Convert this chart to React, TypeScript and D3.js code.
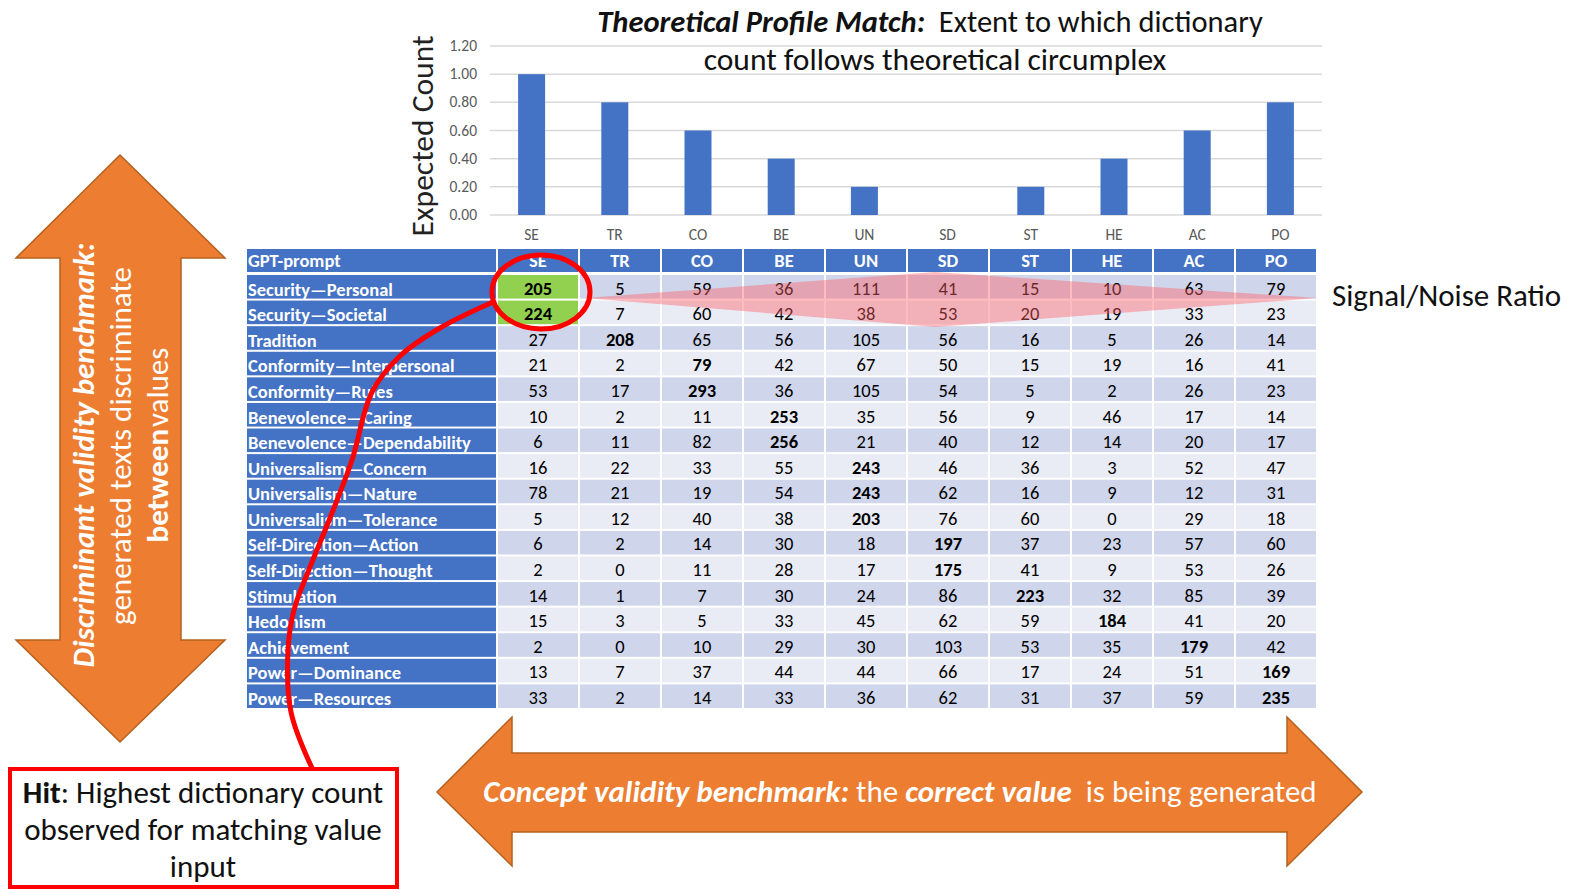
import React from "react";
import * as d3 from "d3";

// bar chart (theoretical profile)
const categories = ["SE", "TR", "CO", "BE", "UN", "SD", "ST", "HE", "AC", "PO"];
const expectedCount = [1.0, 0.8, 0.6, 0.4, 0.2, 0.0, 0.2, 0.4, 0.6, 0.8];
const yTicks = [0, 0.2, 0.4, 0.6, 0.8, 1.0, 1.2];

// table
const prompts = [
  "Security—Personal",
  "Security—Societal",
  "Tradition",
  "Conformity—Interpersonal",
  "Conformity—Rules",
  "Benevolence—Caring",
  "Benevolence—Dependability",
  "Universalism—Concern",
  "Universalism—Nature",
  "Universalism—Tolerance",
  "Self-Direction—Action",
  "Self-Direction—Thought",
  "Stimulation",
  "Hedonism",
  "Achievement",
  "Power—Dominance",
  "Power—Resources",
];
const counts = [
  [205, 5, 59, 36, 111, 41, 15, 10, 63, 79],
  [224, 7, 60, 42, 38, 53, 20, 19, 33, 23],
  [27, 208, 65, 56, 105, 56, 16, 5, 26, 14],
  [21, 2, 79, 42, 67, 50, 15, 19, 16, 41],
  [53, 17, 293, 36, 105, 54, 5, 2, 26, 23],
  [10, 2, 11, 253, 35, 56, 9, 46, 17, 14],
  [6, 11, 82, 256, 21, 40, 12, 14, 20, 17],
  [16, 22, 33, 55, 243, 46, 36, 3, 52, 47],
  [78, 21, 19, 54, 243, 62, 16, 9, 12, 31],
  [5, 12, 40, 38, 203, 76, 60, 0, 29, 18],
  [6, 2, 14, 30, 18, 197, 37, 23, 57, 60],
  [2, 0, 11, 28, 17, 175, 41, 9, 53, 26],
  [14, 1, 7, 30, 24, 86, 223, 32, 85, 39],
  [15, 3, 5, 33, 45, 62, 59, 184, 41, 20],
  [2, 0, 10, 29, 30, 103, 53, 35, 179, 42],
  [13, 7, 37, 44, 44, 66, 17, 24, 51, 169],
  [33, 2, 14, 33, 36, 62, 31, 37, 59, 235],
];
// rows highlighted as "hit" (green cells in SE column)
const hitRows = [0, 1];

const FONT = "Carlito, Calibri, Lato, 'Open Sans', sans-serif";
const BLUE = "#4472C4";
const ORANGE = "#ED7D31";
const ORANGE_EDGE = "#B4611F";
const BIG = 31;

const App = () => {
  const W = 1574;
  const H = 893;

  const x = d3.scaleBand().domain(categories).range([490, 1322]);
  const y = d3.scaleLinear().domain([0, 1.2]).range([215, 46]);
  const barW = 27;

  const col = d3.scaleBand().domain(categories).range([497, 1317]);
  const row = d3.scaleBand().domain(prompts).range([274, 709]);
  const labelX = 247;
  const labelW = 250;
  const headY = 249;
  const headH = 24;
  const tfs = 18.5;

  const curve = d3.line().curve(d3.curveCatmullRom.alpha(0.5))([
    [493, 302], [440, 328], [400, 356], [372, 392], [352, 460],
    [330, 518], [308, 572], [294, 610], [288, 650], [291, 712], [312, 768],
  ]);

  return (
    <div style={{ position: "absolute", left: 0, top: 0 }}>
      <svg width={W} height={H} style={{ display: "block", fontFamily: FONT }}>
        <rect width={W} height={H} fill="#fff" />

        {/* bar chart */}
        {yTicks.map((t) => (
          <g key={t}>
            <line x1={490} x2={1322} y1={y(t)} y2={y(t)} stroke="#D9D9D9" strokeWidth={1.5} />
            <text x={477} y={y(t) + 5} textAnchor="end" fontSize={15.5} fill="#595959">
              {d3.format(".2f")(t)}
            </text>
          </g>
        ))}
        {categories.map((c, i) => (
          <g key={c}>
            {expectedCount[i] > 0 && (
              <rect
                x={x(c)! + x.bandwidth() / 2 - barW / 2}
                y={y(expectedCount[i])}
                width={barW}
                height={y(0) - y(expectedCount[i])}
                fill={BLUE}
              />
            )}
            <text x={x(c)! + x.bandwidth() / 2} y={239.5} textAnchor="middle" fontSize={15.5} fill="#595959">
              {c}
            </text>
          </g>
        ))}
        <text transform="translate(433,136) rotate(-90)" textAnchor="middle" fontSize={31.5} fill="#222">
          Expected Count
        </text>
        <text x={930} y={32} textAnchor="middle" fontSize={30.5} fill="#111">
          <tspan fontWeight="bold" fontStyle="italic">Theoretical Profile Match:</tspan>
          <tspan>{"\u00a0 Extent to which dictionary"}</tspan>
        </text>
        <text x={935} y={70} textAnchor="middle" fontSize={31.5} fill="#111">
          count follows theoretical circumplex
        </text>

        {/* table header */}
        <rect x={labelX} y={headY} width={labelW - 1} height={headH - 1} fill={BLUE} />
        <text x={labelX + 1} y={headY + 18} fontSize={tfs} fontWeight="bold" fill="#fff">GPT-prompt</text>
        {categories.map((c) => (
          <g key={"h" + c}>
            <rect x={col(c)! + 1} y={headY} width={col.bandwidth() - 2} height={headH - 1} fill={BLUE} />
            <text x={col(c)! + col.bandwidth() / 2} y={headY + 18} textAnchor="middle" fontSize={tfs} fontWeight="bold" fill="#fff">
              {c}
            </text>
          </g>
        ))}

        {/* table body */}
        {prompts.map((p, r) => {
          const ry = row(p)!;
          const rh = row.bandwidth();
          const mx = d3.max(counts[r])!;
          return (
            <g key={p}>
              <rect x={labelX} y={ry + 1} width={labelW - 1} height={rh - 2} fill={BLUE} />
              <text x={labelX + 1} y={ry + rh - 4} fontSize={tfs} fontWeight="bold" fill="#fff">{p}</text>
              {categories.map((c, j) => {
                const hit = j === 0 && hitRows.includes(r);
                const fill = hit ? "#92D050" : r % 2 === 0 ? "#CFD5EA" : "#E9EBF5";
                return (
                  <g key={c}>
                    <rect x={col(c)! + 1} y={ry + 1} width={col.bandwidth() - 2} height={rh - 2} fill={fill} />
                    <text
                      x={col(c)! + col.bandwidth() / 2}
                      y={ry + rh - 5}
                      textAnchor="middle"
                      fontSize={tfs}
                      fontWeight={counts[r][j] === mx ? "bold" : "normal"}
                      fill="#000"
                    >
                      {counts[r][j]}
                    </text>
                  </g>
                );
              })}
            </g>
          );
        })}

        {/* signal / noise diamond */}
        <polygon points="585,298 935,272 1318,298 935,327" fill="#FF6063" fillOpacity={0.42} />
        <text x={1332} y={306} fontSize={BIG} fill="#111">Signal/Noise Ratio</text>

        {/* hit ellipse + connector */}
        <ellipse cx={541} cy={292} rx={49} ry={37} fill="none" stroke="#FF0000" strokeWidth={5} />
        <path d={curve!} fill="none" stroke="#FF0000" strokeWidth={5} />
        <rect x={10} y={769} width={387} height={118} fill="#fff" stroke="#FF0000" strokeWidth={4} />
        <text x={203} y={803} textAnchor="middle" fontSize={BIG} fill="#111">
          <tspan fontWeight="bold">Hit</tspan>: Highest dictionary count
        </text>
        <text x={203} y={840} textAnchor="middle" fontSize={BIG} fill="#111">observed for matching value</text>
        <text x={203} y={877} textAnchor="middle" fontSize={BIG} fill="#111">input</text>

        {/* vertical arrow */}
        <polygon
          points="120,155 225,258 181,258 181,640 225,640 120,742 16,640 60,640 60,258 16,258"
          fill={ORANGE}
          stroke={ORANGE_EDGE}
          strokeWidth={1.5}
        />
        <g fill="#fff" fontSize={BIG} textAnchor="middle">
          <text transform="translate(94,455) rotate(-90)" fontWeight="bold" fontStyle="italic">
            Discriminant validity benchmark:
          </text>
          <text transform="translate(131,446) rotate(-90)">generated texts discriminate</text>
          <text transform="translate(168,445) rotate(-90)">
            <tspan fontWeight="bold">between</tspan>
            <tspan dx={2}>values</tspan>
          </text>
        </g>

        {/* horizontal arrow */}
        <polygon
          points="437,792 512,717 512,753 1287,753 1287,717 1362,792 1287,866 1287,832 512,832 512,866"
          fill={ORANGE}
          stroke={ORANGE_EDGE}
          strokeWidth={1.5}
        />
        <text x={900} y={802} textAnchor="middle" fontSize={BIG} fill="#fff">
          <tspan fontWeight="bold" fontStyle="italic">Concept validity benchmark:</tspan>
          <tspan>{"\u00a0the "}</tspan>
          <tspan fontWeight="bold" fontStyle="italic">correct value</tspan>
          <tspan>{"\u00a0 is being generated"}</tspan>
        </text>
      </svg>
    </div>
  );
};

export default App;
